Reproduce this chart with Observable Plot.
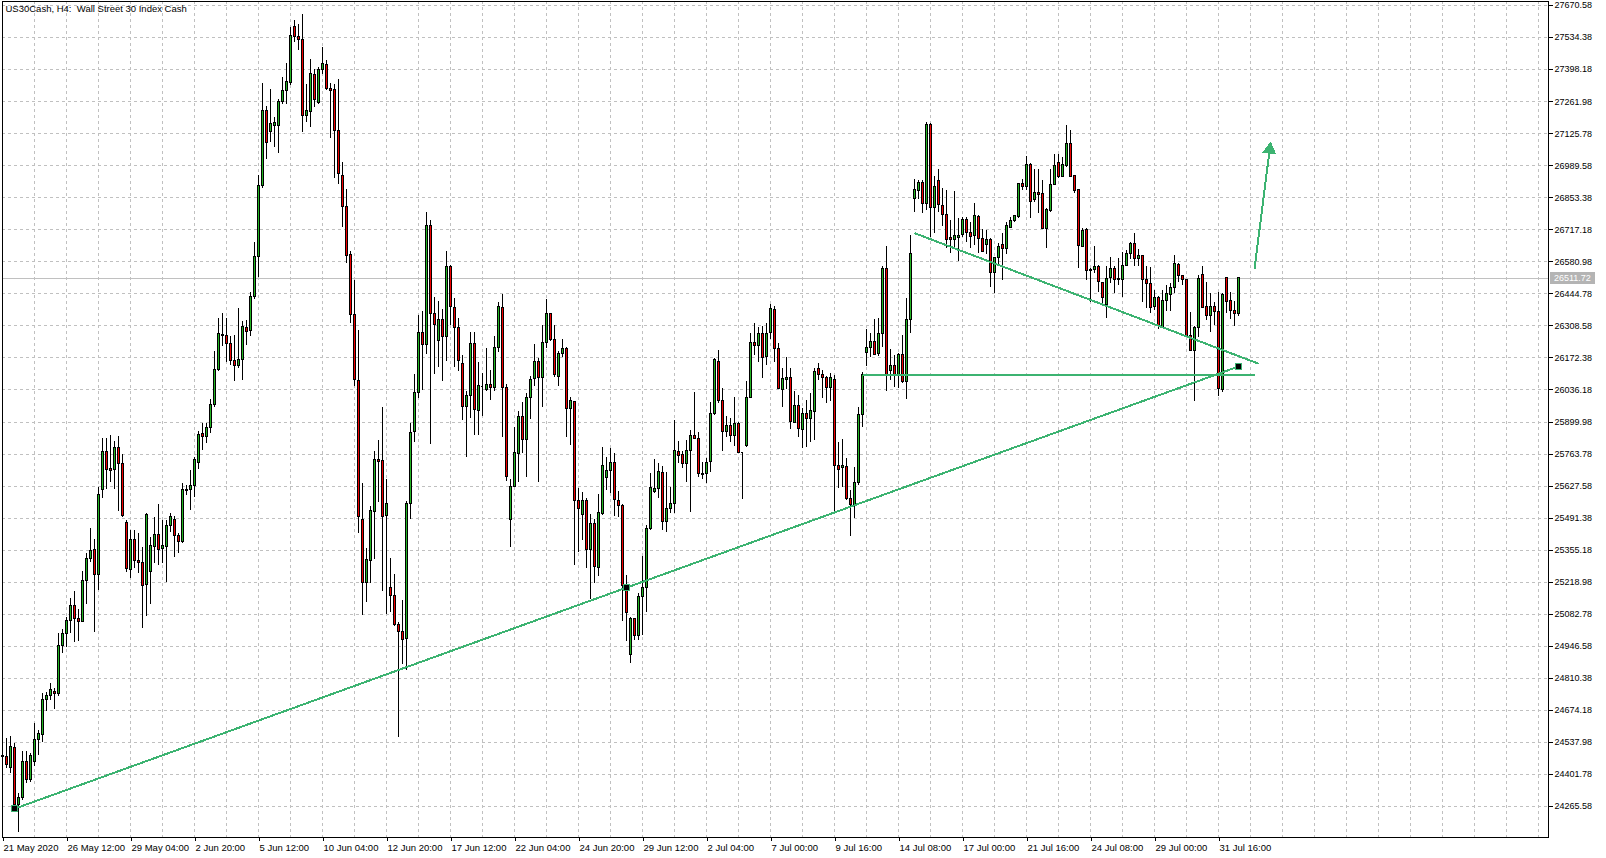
<!DOCTYPE html>
<html><head><meta charset="utf-8">
<script src="https://cdn.jsdelivr.net/npm/d3@7"></script>
<script src="https://cdn.jsdelivr.net/npm/@observablehq/plot@0.6"></script>
<style>
html,body{margin:0;padding:0;background:#fff;overflow:hidden}
#chart svg{display:block;shape-rendering:crispEdges}
svg text{white-space:pre}
</style></head><body><div id="chart"></div>
<script>
const title = "US30Cash, H4:  Wall Street 30 Index Cash";

const open = [24482,24475,24430,24514,24274,24302,24454,24379,24454,24549,24570,24719,24736,24753,24745,24949,25000,25055,25119,25061,25051,25225,25319,25357,25250,25612,25771,25700,25697,25790,25722,25472,25272,25399,25310,25300,25208,25262,25368,25418,25361,25368,25456,25484,25416,25389,25606,25609,25629,25727,
25847,25838,25876,25971,26119,26269,26266,26233,26161,26138,26165,26298,26285,26431,26602,26903,27222,27131,27160,27160,27260,27306,27340,27580,27536,27525,27201,27217,27375,27255,27395,27416,27316,27312,27137,26945,26812,26611,26354,26074,25484,25216,25310,25518,25740,25735,25500,25193,25161,25039,
25006,24976,25553,25856,26023,26277,26228,26733,26358,26244,26335,26262,26560,26385,26301,26145,25963,26011,26233,25948,26049,26034,26058,26043,26216,26383,26046,25484,25624,25765,25922,25823,26001,26081,26156,26089,26236,26358,26248,26091,26190,26211,25956,25985,25564,25506,25566,25357,25467,25280,
25510,25661,25690,25727,25566,25542,25201,24910,25063,24990,25158,25195,25446,25602,25616,25683,25474,25531,25552,25772,25758,25722,25776,25839,25829,25677,25677,25729,25935,26157,25989,25857,25885,25840,25892,25769,25796,26003,26237,26223,26275,26176,26278,26377,26211,26037,26080,26088,25895,25966,
25867,25935,25914,25942,26126,26101,26088,26046,26080,25712,25704,25708,25574,25548,25640,25928,26193,26216,26242,26188,26275,26551,26116,26140,26101,26186,26070,26335,26849,26884,26916,26828,27161,26811,26923,26819,26781,26682,26675,26683,26693,26757,26703,26689,26773,26679,26651,26672,26533,26598,
26651,26636,26724,26753,26771,26913,26899,26994,26842,26873,26870,26721,26797,26909,27001,26941,26987,27080,26944,26885,26644,26717,26541,26547,26561,26490,26396,26512,26551,26502,26505,26564,26615,26658,26594,26604,26505,26488,26388,26428,26303,26414,26442,26471,26566,26519,26502,26264,26204,26301,
26523,26388,26349,26388,26367,26037,26513,26414,26374,26360];

const high = [24518,24553,24563,24535,24319,24499,24499,24489,24617,24589,24745,24749,24787,24766,25000,25017,25070,25148,25181,25102,25265,25340,25448,25399,25623,25829,25829,25843,25817,25839,25762,25481,25439,25439,25428,25368,25510,25411,25496,25549,25481,25481,25513,25498,25428,25637,25630,25694,25751,25861,
25895,25895,25994,26199,26338,26361,26338,26262,26269,26384,26326,26332,26450,26665,26950,27340,27240,27312,27194,27270,27365,27424,27578,27607,27588,27631,27335,27441,27397,27407,27493,27435,27340,27335,27354,27002,26890,26623,26500,26289,25639,25363,25542,25773,25822,25963,25654,25320,25252,25047,
25140,25560,25894,26102,26353,26370,26790,26755,26429,26411,26380,26626,26567,26426,26342,26183,26031,26279,26279,26153,26107,26213,26118,26263,26408,26444,26061,25654,25875,25945,25985,26023,26095,26228,26172,26309,26421,26362,26312,26200,26250,26218,26003,25989,25616,25602,25574,25506,25484,25591,
25790,25751,25786,25768,25606,25549,25248,25070,25066,25172,25328,25460,25680,25739,25725,25711,25687,25620,25907,25817,25776,25822,25864,26026,25857,25729,25746,25985,26169,26204,26041,25924,25914,26003,25899,25772,26072,26275,26320,26303,26308,26320,26400,26391,26235,26126,26173,26126,26031,26013,
25956,25992,26020,26126,26148,26119,26094,26108,26098,25815,25824,25744,25609,25705,25963,26112,26292,26278,26336,26339,26559,26644,26207,26183,26190,26268,26424,26693,26930,26927,26927,27175,27168,26944,26974,26892,26884,26757,26882,26764,26768,26768,26750,26831,26778,26719,26714,26679,26601,26658,
26700,26747,26768,26778,26916,26931,27029,26998,26972,26972,26927,26807,26972,27038,27036,27023,27161,27140,26948,26888,26721,26721,26551,26646,26566,26493,26559,26601,26559,26594,26622,26629,26665,26700,26632,26608,26559,26556,26459,26434,26459,26481,26488,26608,26573,26523,26505,26367,26307,26523,
26559,26491,26445,26410,26452,26448,26516,26449,26413,26516];

const low = [24468,24426,24404,24270,24156,24291,24362,24366,24437,24484,24539,24671,24716,24677,24735,24915,24943,25000,24964,24968,25048,25124,25304,25007,25184,25574,25614,25644,25612,25521,25495,25259,25236,25276,25255,25024,25075,25123,25300,25290,25300,25219,25432,25323,25340,25385,25588,25524,25581,25700,
25780,25809,25851,25961,26113,26222,26155,26142,26072,26129,26075,26224,26262,26422,26513,26893,27017,27087,27068,27042,27251,27251,27331,27512,27479,27131,27175,27150,27236,27251,27378,27308,27106,26935,26909,26725,26575,26317,26051,25424,25079,25131,25214,25317,25557,25181,25082,25090,25029,24561,
24869,24844,25487,25815,25998,26034,26187,25803,26102,26130,26074,26156,26312,26130,26115,25907,25750,25917,25844,25841,25922,26028,25990,26031,26195,25834,25648,25366,25621,25644,25765,25664,25910,26049,25641,25960,26213,26241,26091,26051,26176,25836,25800,25290,25347,25396,25276,25144,25212,25243,
25503,25609,25595,25498,25496,25053,24968,24875,24971,24971,24993,25092,25439,25595,25574,25439,25432,25510,25510,25725,25701,25642,25514,25824,25666,25654,25637,25687,25928,25977,25776,25836,25814,25796,25768,25569,25793,25999,26183,26155,26084,26141,26250,26155,26037,25963,26037,25867,25892,25836,
25786,25793,25814,25822,26077,25999,25977,25989,25521,25616,25623,25567,25413,25488,25630,25878,26136,26176,26183,26179,26218,26031,26077,26048,26041,26063,25994,26275,26792,26845,26788,26800,26686,26700,26792,26729,26636,26618,26632,26583,26686,26661,26636,26651,26615,26620,26612,26473,26445,26559,
26502,26612,26721,26746,26764,26884,26884,26764,26835,26785,26717,26636,26792,26906,26934,26938,26984,26938,26870,26551,26641,26502,26410,26533,26452,26400,26339,26488,26448,26481,26428,26559,26590,26561,26561,26410,26381,26360,26374,26292,26301,26371,26371,26445,26491,26481,26261,26201,25989,26261,
26381,26332,26282,26310,26009,26027,26360,26335,26306,26349];

const close = [24475,24440,24518,24274,24302,24454,24379,24480,24549,24574,24719,24736,24762,24745,24949,25000,25055,25119,25063,25051,25225,25319,25352,25250,25591,25771,25697,25693,25790,25722,25500,25276,25399,25309,25300,25202,25505,25371,25418,25357,25371,25456,25496,25415,25389,25613,25613,25629,25737,25846,
25838,25876,25971,26119,26273,26266,26231,26161,26138,26165,26304,26281,26431,26602,26903,27222,27087,27165,27169,27260,27306,27346,27542,27536,27525,27201,27222,27378,27270,27397,27422,27316,27308,27137,26954,26812,26605,26354,26080,25497,25216,25314,25522,25740,25730,25497,25553,25161,25036,25006,
24973,25553,25852,26023,26277,26228,26733,26361,26312,26335,26262,26560,26391,26301,26160,25963,26011,26233,25952,26054,26049,26058,26043,26216,26388,26046,25667,25624,25770,25922,25823,26001,26077,26156,26089,26236,26358,26248,26100,26190,26211,25956,25989,25564,25531,25564,25357,25467,25283,25514,
25711,25690,25727,25569,25542,25201,25089,25063,24990,25158,25195,25446,25620,25616,25687,25474,25531,25552,25776,25755,25722,25776,25839,25827,25680,25673,25727,25935,26162,25989,25857,25885,25840,25892,25769,25769,26003,26237,26223,26275,26173,26275,26381,26211,26041,26084,26088,25900,25966,25871,
25932,25914,25945,26112,26101,26088,26046,26088,25712,25697,25711,25574,25548,25640,25928,26098,26216,26242,26186,26275,26551,26094,26140,26101,26186,26070,26335,26615,26887,26916,26828,27161,26811,26899,26824,26782,26675,26675,26689,26689,26757,26703,26686,26775,26679,26622,26672,26533,26598,26646,
26636,26733,26753,26775,26913,26899,26994,26835,26874,26867,26721,26800,26909,26987,26941,26991,27080,26941,26882,26648,26714,26544,26547,26561,26495,26427,26509,26551,26502,26506,26564,26615,26658,26594,26604,26505,26488,26386,26428,26310,26413,26445,26471,26573,26519,26502,26264,26201,26301,26509,
26386,26349,26388,26367,26041,26442,26410,26371,26360,26511.72];

const lastPrice = 26511.72;

const yTicks = [27670.58,27534.38,27398.18,27261.98,27125.78,26989.58,26853.38,26717.18,26580.98,26444.78,26308.58,26172.38,26036.18,25899.98,25763.78,25627.58,25491.38,25355.18,25218.98,25082.78,24946.58,24810.38,24674.18,24537.98,24401.78,24265.58];

const xTickBars = [0,16,32,48,64,80,96,112,128,144,160,176,192,208,224,240,256,272,288,304];
const xTickLabels = ["21 May 2020","26 May 12:00","29 May 04:00","2 Jun 20:00","5 Jun 12:00","10 Jun 04:00","12 Jun 20:00","17 Jun 12:00","22 Jun 04:00","24 Jun 20:00","29 Jun 12:00","2 Jul 04:00","7 Jul 00:00","9 Jul 16:00","14 Jul 08:00","17 Jul 00:00","21 Jul 16:00","24 Jul 08:00","29 Jul 00:00","31 Jul 16:00"];

// drawn objects (bar index, price)
const supportX = [3, 156, 309];
const supportY = [24256, 25195, 26136];
const resistX = [228, 314];
const resistY = [26703, 26148];
const levelX = [215, 313];
const levelY = [26098, 26098];
const arrowX = [313, 317];
const arrowY = [26551, 27086];
const arrowHeadX = [316.8];
const arrowHeadY = [27058];

const bull = "#22b422", bear = "#f00000", drawColor = "#3cb371";

const candles = open.map((o, i) => ({i, open: o, high: high[i], low: low[i], close: close[i]}));
const dojis = candles.filter(d => Math.abs(d.open - d.close) < 4);
const gridBars = d3.range(8, 387, 8);
const labelByBar = new Map(xTickBars.map((b, k) => [b, xTickLabels[k]]));

const segments = [
  {x1: supportX[0], y1: supportY[0], x2: supportX[2], y2: supportY[2]},
  {x1: resistX[0], y1: resistY[0], x2: resistX[1], y2: resistY[1]},
  {x1: levelX[0], y1: levelY[0], x2: levelX[1], y2: levelY[1]},
  {x1: arrowX[0], y1: arrowY[0], x2: arrowX[1], y2: arrowY[1]}
];
const anchors = supportX.map((x, k) => ({x, y: supportY[k]}));
const heads = arrowHeadX.map((x, k) => ({x, y: arrowHeadY[k]}));

const chart = Plot.plot({
  width: 1606, height: 858,
  marginLeft: 2, marginRight: 58, marginTop: 1, marginBottom: 21,
  style: {fontFamily: "'Liberation Sans', Arial, sans-serif", fontSize: "9px", background: "#fff", color: "#000"},
  x: {type: "linear", domain: [0, 386.5]},
  y: {type: "linear", domain: [24133.8, 27687.58]},
  color: {type: "identity"},
  marks: [
    Plot.ruleY(yTicks, {stroke: "#c0c0c0", strokeDasharray: "3,3"}),
    Plot.ruleX(gridBars, {stroke: "#c0c0c0", strokeDasharray: "3,3"}),
    Plot.ruleY([lastPrice], {stroke: "#c0c0c0"}),
    Plot.ruleX(candles, {x: "i", y1: "low", y2: "high", stroke: "#000"}),
    Plot.rect(candles, {x1: d => d.i - 0.25, x2: d => d.i + 0.25, y1: "open", y2: "close",
      fill: d => d.close >= d.open ? bull : bear, stroke: "#000"}),
    Plot.ruleY(dojis, {y: "close", x1: d => d.i - 0.25, x2: d => d.i + 0.25, stroke: "#000"}),
    Plot.link(segments, {x1: "x1", y1: "y1", x2: "x2", y2: "y2", stroke: drawColor, strokeWidth: 2}),
    Plot.dot(anchors, {x: "x", y: "y", symbol: "square", r: 3.4, fill: "#000", stroke: drawColor, strokeWidth: 1}),
    Plot.dot(heads, {x: "x", y: "y", symbol: "triangle", r: 4.3, fill: drawColor, stroke: drawColor, rotate: 7}),
    Plot.frame({stroke: "#000"}),
    Plot.axisY(yTicks, {anchor: "right", tickSize: 4, tickPadding: 2, tickFormat: d => d.toFixed(2), label: null, fontSize: 9}),
    Plot.axisX(xTickBars, {anchor: "bottom", tickSize: 4, tickPadding: 3, tickFormat: d => labelByBar.get(d), textAnchor: "start", dx: 1, label: null, fontSize: 9.5}),
    Plot.text([title], {text: d => d, frameAnchor: "top-left", dx: 3, dy: 4, textAnchor: "start", lineAnchor: "top", fontSize: 9.5})
  ]
});
document.getElementById("chart").appendChild(chart);

// current price label on the price axis
const yPx = chart.scale("y").apply(lastPrice) + 0.5;
const svg = d3.select(chart);
svg.append("rect").attr("x", 1550).attr("y", Math.round(yPx - 6)).attr("width", 45).attr("height", 12).attr("fill", "#b4b4b4");
svg.append("text").attr("x", 1554).attr("y", yPx).attr("dy", "0.32em").attr("fill", "#fff")
  .attr("text-anchor", "start").attr("font-size", 9).text(lastPrice.toFixed(2));
</script></body></html>
